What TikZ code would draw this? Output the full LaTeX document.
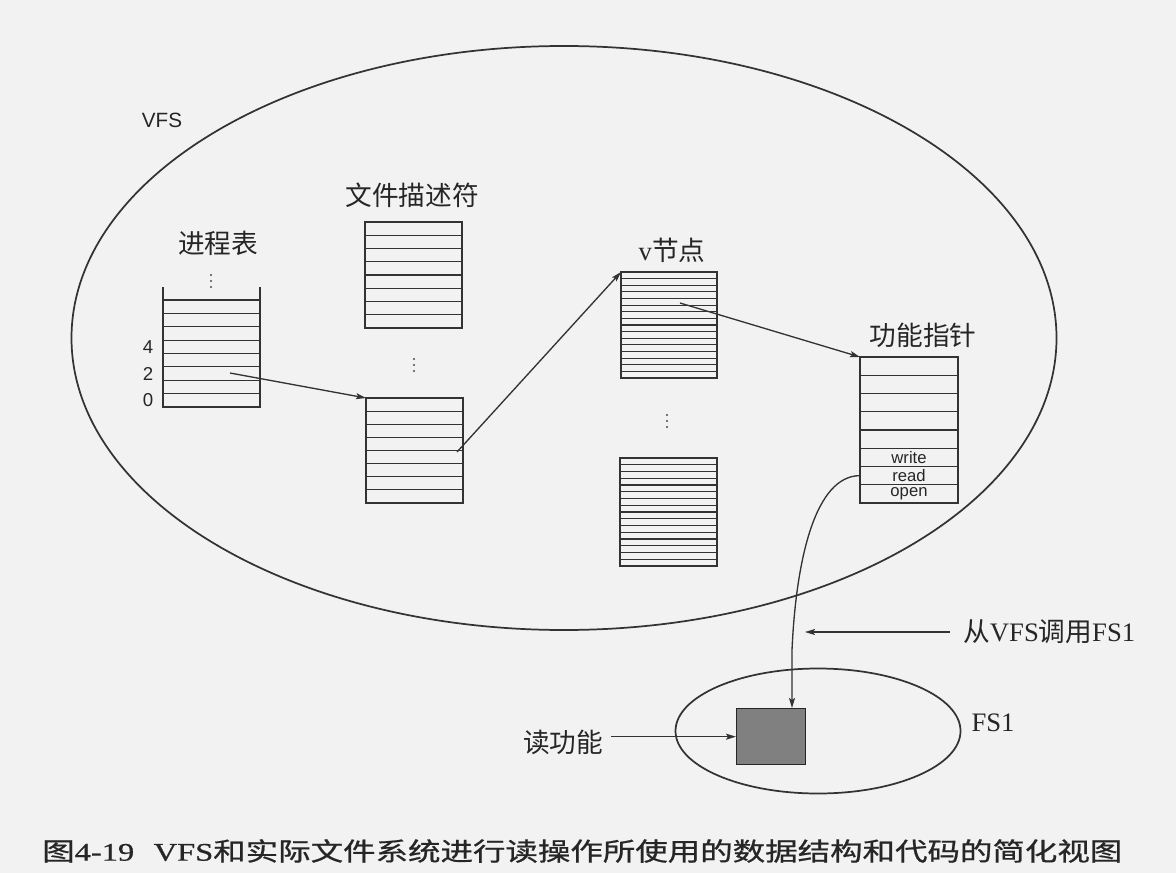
\documentclass[tikz,border=0pt]{standalone}
\usepackage{graphicx}
\usepackage{fontspec}
\setmainfont{Liberation Serif}
\setsansfont{Liberation Sans}
\newfontfamily\cjk{Noto Sans CJK SC}
\newfontfamily\cjkcap[FakeBold=0.7]{Noto Sans CJK SC}
\newfontfamily\sercap[FakeBold=0.7]{Liberation Serif}
\usepackage{tikz}
\usetikzlibrary{shapes.geometric,arrows.meta,positioning,calc}

% one pixel of the layout
\newcommand\pxu{0.75pt}
% stack of rows: name, left, top, width, height, rows
\newcommand\rowstack[6]{%
  \node[stack, minimum width=#4*\pxu, minimum height=#5*\pxu] (#1) at (#2,#3) {};
  \pgfmathtruncatemacro\lastrow{#6-1}
  \foreach \i in {1,...,\lastrow}
    \draw[rowline] ($(#1.north west)!\i/#6!(#1.south west)$) -- ($(#1.north east)!\i/#6!(#1.south east)$);
}
% three dots for the rows left out
\newcommand\moredots[2]{%
  \foreach \d in {-6,0,6}
    \fill[black!70] (#1,#2+\d) circle (0.9pt);
}

\begin{document}
\begin{tikzpicture}[x=0.75pt, y=-0.75pt,
  rowline/.style={draw=black!80, line width=0.9pt},
  stack/.style={rectangle, draw=black!80, line width=0.9pt, anchor=north west, inner sep=0pt, outer sep=0pt},
  zone/.style={ellipse, draw=black!80, line width=1.3pt, inner sep=0pt},
  title/.style={font=\cjk\fontsize{20}{24}\selectfont, text=black!85, inner sep=0pt},
  slot/.style={font=\sffamily\fontsize{12.5}{13}\selectfont, text=black!85, inner sep=0pt},
  num/.style={font=\sffamily\fontsize{14}{14}\selectfont, text=black!85, inner sep=0pt},
  arr/.style={-{Stealth[length=7.5pt, width=4.5pt, inset=1.5pt]}, draw=black!80, line width=1pt}]
  \path[use as bounding box, fill=black!5] (0,0) rectangle (1176,873);

  % the two systems
  \node[zone, minimum width=985*\pxu, minimum height=584*\pxu] (vfs) at (564,338) {};
  \node[zone, minimum width=285*\pxu, minimum height=125*\pxu] (fsone) at (818,731) {};
  \node[font=\sffamily\fontsize{15.5}{16}\selectfont, text=black!85, inner sep=0pt] (vfslbl) at (162,120) {VFS};
  \node[font=\rmfamily\fontsize{20}{24}\selectfont, text=black!85, inner sep=0pt] (fslbl) at (993,723) {FS1};

  % process table
  \rowstack{proc}{163}{300}{97}{107}{8}
  \draw[rowline] (proc.north west) -- ++(0,-13);
  \draw[rowline] (proc.north east) -- ++(0,-13);
  \moredots{211}{281}
  \node[title] (proclbl) at (218,243) {进程表};
  \node[num] at (148,347) {4};
  \node[num] at (148,374) {2};
  \node[num] at (148,400) {0};

  % file descriptors
  \rowstack{fdtop}{365}{222}{97}{106}{8}
  \rowstack{fdbot}{366}{398}{97}{105}{8}
  \moredots{414}{365}
  \node[title] (fdlbl) at (412,195) {文件描述符};

  % v-nodes
  \rowstack{vtop}{621}{272}{96}{106}{16}
  \rowstack{vbot}{620}{458}{97}{108}{16}
  \moredots{667}{421}
  \node[title] (vlbl) at (672,250) {{\rmfamily v}节点};

  % function pointers
  \rowstack{fptr}{860}{357}{98}{146}{8}
  \node[title] (fplbl) at (923,335) {功能指针};
  \node[slot] at ($(fptr.north)!5.5/8!(fptr.south)$) {write};
  \node[slot] at ($(fptr.north)!6.5/8!(fptr.south)$) {read};
  \node[slot] at ($(fptr.north)!7.5/8!(fptr.south)$) {open};

  % read function of FS1
  \node[rectangle, draw=black!85, line width=1pt, fill=black!50, anchor=north west,
        minimum width=69*\pxu, minimum height=56*\pxu, inner sep=0pt] (readfn) at (736,708) {};
  \node[title] (readlbl) at (563,742) {读功能};
  \node[title, anchor=west] (calllbl) at (963,632) {从{\rmfamily VFS}调用{\rmfamily FS1}};

  % pointers
  \coordinate (slot2) at (230,373);
  \coordinate (fdslot) at (457,452);
  \coordinate (vslot) at (680,303);
  \coordinate (readrow) at ($(fptr.north west)!6.5/8!(fptr.south west)$);
  \coordinate (drop) at (792,650);
  \coordinate (callpt) at (805,632);
  \draw[arr] (slot2) -- (fdbot.north west);
  \draw[arr] (fdslot) -- (vtop.north west);
  \draw[arr] (vslot) -- (fptr.north west);
  \draw[arr] (readrow) .. controls +(-45,0) and +(4,-90) .. (drop) -- (drop |- readfn.north);
  \draw[arr] ([xshift=-10pt]calllbl.west) -- (callpt);
  \draw[arr] ([xshift=6pt]readlbl.east |- readfn.west) -- (readfn.west);

  % caption
  \node[anchor=west, inner sep=0pt, text=black!85] (caption) at (42,851)
    {\resizebox{810pt}{!}{\scalebox{1}[0.78]{\cjkcap\fontsize{24}{28}\selectfont 图{\sercap 4-19}\hspace{0.6em}{\sercap VFS}和实际文件系统进行读操作所使用的数据结构和代码的简化视图}}};
\end{tikzpicture}
\end{document}
